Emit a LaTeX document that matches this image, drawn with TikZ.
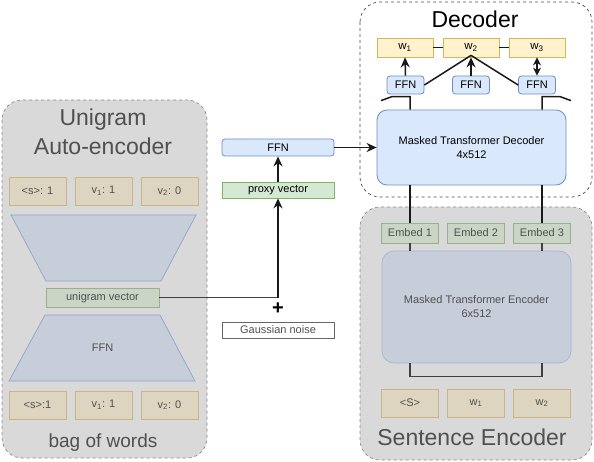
\documentclass[tikz,border=0pt]{standalone}
\usepackage{fontspec}
\setmainfont{Liberation Sans}
\usepackage{xcolor}
\usepackage{tikz}
\usetikzlibrary{arrows.meta}
\definecolor{pane}{HTML}{D9D9D9}
\definecolor{paneln}{HTML}{8A8A8A}
\definecolor{tanf}{HTML}{DDD5BF}
\definecolor{tanl}{HTML}{C8B687}
\definecolor{trapf}{HTML}{C7CDD9}
\definecolor{trapl}{HTML}{8FA5C9}
\definecolor{grnf}{HTML}{CAD5C6}
\definecolor{grnl}{HTML}{98B08D}
\definecolor{proxf}{HTML}{D5E8D4}
\definecolor{proxl}{HTML}{82B366}
\definecolor{bluef}{HTML}{DAE8FC}
\definecolor{bluel}{HTML}{6C8EBF}
\definecolor{yelf}{HTML}{FFF2CC}
\definecolor{yell}{HTML}{D6B656}
\definecolor{dimtx}{HTML}{505050}
\tikzset{
  pane/.style={draw=paneln,dashed,fill=pane,rounded corners=20pt,line width=0.7pt},
  dpane/.style={draw=black!70,dashed,fill=white,rounded corners=20pt,line width=0.7pt},
  ttl/.style={font=\fontsize{23}{29}\selectfont,text=dimtx,align=center},
  tok/.style={draw=tanl,fill=tanf,line width=0.8pt,minimum width=57pt,minimum height=28pt,inner sep=0pt,text=dimtx,font=\fontsize{11}{13}\selectfont},
  wbox/.style={draw=yell,fill=yelf,line width=0.8pt,minimum width=56pt,minimum height=19pt,inner sep=0pt,font=\fontsize{11.5}{13}\selectfont},
  ffn/.style={draw=bluel,fill=bluef,line width=0.8pt,rounded corners=3pt,minimum height=18pt,inner sep=0pt,font=\fontsize{11}{13}\selectfont},
  emb/.style={draw=grnl,fill=grnf,line width=0.8pt,minimum width=57pt,minimum height=20pt,inner sep=0pt,text=dimtx,font=\fontsize{11}{13}\selectfont},
  trap/.style={draw=trapl,fill=trapf,line width=0.7pt},
  ln/.style={line width=1.5pt,black!90},
  arr/.style={ln,-{Stealth[length=10pt,width=9pt]}},
  darr/.style={ln,{Stealth[length=8pt,width=8pt]}-{Stealth[length=8pt,width=8pt]}}
}
\begin{document}
\begin{tikzpicture}[x=1pt,y=-1pt]
\useasboundingbox (0,0) rectangle (594,462);
\draw[pane] (2,100) rectangle (207,458);
\draw[dpane] (360,2) rectangle (592,197);
\draw[pane] (360,207) rectangle (592,460);

\node[ttl] (aetitle) at (103,132) {Unigram\\Auto-encoder};
\node[tok] (bt1) at (37.5,191) {<s>: 1};
\node[tok] (bt2) at (103.5,191) {v\textsubscript{1}: 1};
\node[tok] (bt3) at (169.5,191) {v\textsubscript{2}: 0};
\draw[trap] (11,215) -- (196,215) -- (161,281) -- (46,281) -- cycle;
\node[emb,minimum width=113pt,minimum height=19pt] (uvec) at (102.5,297.5) {unigram vector};
\draw[trap] (45,315) -- (160,315) -- (195,381) -- (9,381) -- cycle;
\node[text=dimtx,font=\fontsize{11}{13}\selectfont] (dffn) at (102.5,348) {FFN};
\node[tok] (bb1) at (37.5,405) {<s>:1};
\node[tok] (bb2) at (103.5,405) {v\textsubscript{1}: 1};
\node[tok] (bb3) at (169.5,405) {v\textsubscript{2}: 0};
\node[ttl,font=\fontsize{19}{23}\selectfont] (bow) at (103,443) {bag of words};

\node[ffn,minimum width=112pt,minimum height=17pt] (pffn) at (278,147.5) {FFN};
\node[draw=proxl,fill=proxf,line width=0.8pt,minimum width=112pt,minimum height=16pt,inner sep=0pt,font=\fontsize{11}{13}\selectfont] (proxy) at (278,190) {proxy vector};
\node[font=\bfseries\fontsize{20}{20}\selectfont] (plus) at (278,309) {+};
\node[draw=black!60,fill=white,line width=0.7pt,minimum width=112pt,minimum height=16pt,inner sep=0pt,text=dimtx,font=\fontsize{11}{13}\selectfont] (noise) at (278,330) {Gaussian noise};

\node[font=\fontsize{23}{29}\selectfont] (dtitle) at (475,19) {Decoder};
\node[wbox] (w1) at (405,47.5) {w\textsubscript{1}};
\node[wbox] (w2) at (471,47.5) {w\textsubscript{2}};
\node[wbox] (w3) at (537,47.5) {w\textsubscript{3}};
\node[ffn,minimum width=37pt] (f1) at (405.5,85) {FFN};
\node[ffn,minimum width=37pt] (f2) at (471,85) {FFN};
\node[ffn,minimum width=37pt] (f3) at (537,85) {FFN};
\node[draw=bluel,fill=bluef,line width=0.8pt,rounded corners=10pt,minimum width=189pt,minimum height=75pt,align=center,font=\fontsize{11}{14}\selectfont] (dec) at (471.5,147.5) {Masked Transformer Decoder\\4x512};

\node[emb] (e1) at (410,233) {Embed 1};
\node[emb] (e2) at (476,233) {Embed 2};
\node[emb] (e3) at (542,233) {Embed 3};
\node[draw=trapl!80,fill=trapf,line width=0.7pt,rounded corners=12pt,minimum width=189pt,minimum height=112pt,align=center,text=dimtx,font=\fontsize{11}{14}\selectfont] (enc) at (476.5,307) {Masked Transformer Encoder\\6x512};
\node[tok] (s1) at (410,403) {<S>};
\node[tok] (s2) at (476,403) {w\textsubscript{1}};
\node[tok] (s3) at (542,403) {w\textsubscript{2}};
\node[ttl] (stitle) at (472,437) {Sentence Encoder};

\draw[ln,black!75] (uvec.east) -- (uvec.east -| plus);
\draw[arr] (uvec.east -| plus) -- (proxy.south);
\draw[arr] (proxy.north) -- (pffn.south);
\draw[arr] (pffn.east) -- (dec.west);

\draw[ln,line width=1pt] (w1.east) -- (w2.west);
\draw[ln,line width=1pt] (w2.east) -- (w3.west);
\draw[arr] (f1.north) -- (w1.south);
\draw[arr] (f2.north) -- (w2.south);
\draw[darr] (f3.north) -- (w3.south);
\draw[ln] (f1.east) -- ([yshift=2pt]w2.south);
\draw[ln] ([yshift=2pt]w2.south) -- (f3.west);
\coordinate (l1) at (e1.north |- dec.north);
\coordinate (l3) at (e3.north |- dec.north);
\draw[ln] (l1) -- ++(0,-13) -- ++(-18,0) -- ++(-11,4);
\draw[ln] (l3) -- ++(0,-13) -- ++(18,0) -- ++(11,4);
\draw[ln] (e1.north) -- (e1.north |- dec.south);
\draw[ln] (e3.north) -- (e3.north |- dec.south);

\draw[ln,black!75] (e1.south) -- (e1.south |- enc.north);
\draw[ln,black!75] (e3.south) -- (e3.south |- enc.north);
\draw[ln,black!75] (enc.south -| e1) -- ++(0,13) -| (enc.south -| e3);
\end{tikzpicture}
\end{document}
